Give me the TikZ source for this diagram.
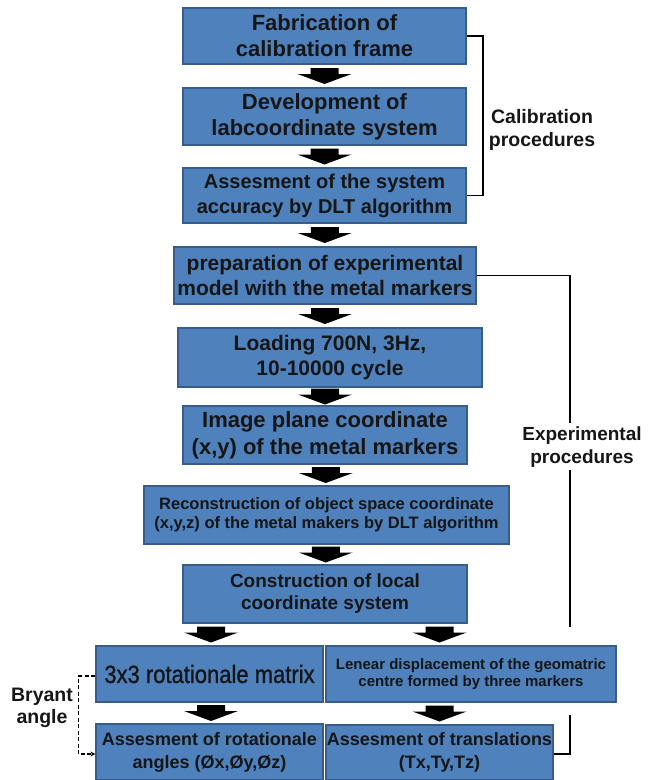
\documentclass[tikz,border=0pt]{standalone}
\usepackage{fontspec}
\setmainfont{Liberation Sans}
\newfontfamily\narrowfont[FakeStretch=0.88,FakeBold=1.0]{Liberation Sans}
\usetikzlibrary{calc,arrows.meta}
\definecolor{boxfill}{RGB}{79,129,189}
\definecolor{boxline}{RGB}{56,93,138}
\definecolor{txt}{RGB}{22,22,22}
\begin{document}
\begin{tikzpicture}[x=1pt,y=-1pt,
  box/.style={draw=boxline, line width=1.2pt, fill=boxfill, inner sep=0pt, align=center, text=txt},
  fs/.style 2 args={font=\bfseries\fontsize{#1}{#2}\selectfont},
  fn/.style 2 args={font=\narrowfont\fontsize{#1}{#2}\selectfont},
  lbl/.style={align=center, text=txt, inner sep=0pt},
  bracket/.style={line width=1.5pt, black},
  barrow/.pic={\fill[black] (-14,-8) -- (14,-8) -- (14,-2) -- (27,-2) -- (0,8) -- (-27,-2) -- (-14,-2) -- cycle;}
]
\useasboundingbox (0,0) rectangle (652,780);

% free ends of the bracket connectors
\coordinate (calx) at (483,0);
\coordinate (e1) at (570,275.5);
\coordinate (e2) at (570,423);
\coordinate (e3) at (570,470);
\coordinate (e4) at (570,627);
\coordinate (e5) at (570,715);

% boxes
\node[box, minimum width=283pt, minimum height=56pt, fs={22}{26}] (b1) at (324.5,36) {Fabrication of\\calibration frame};
\node[box, minimum width=283pt, minimum height=57pt, fs={22}{26}] (b2) at (324.5,116.5) {Development of\\labcoordinate system};
\node[box, minimum width=283pt, minimum height=55pt, fs={20}{25}] (b3) at (324.5,195.5) {Assesment of the system\\accuracy by DLT algorithm};
\node[box, minimum width=302pt, minimum height=57pt, fs={21}{25}] (b4) at (325,275.5) {preparation of experimental\\model with the metal markers};
\node[box, minimum width=304pt, minimum height=59pt, fs={21}{25}] (b5) at (330,357.5) {Loading 700N, 3Hz,\\10-10000 cycle};
\node[box, minimum width=284pt, minimum height=58pt, fs={22}{27}] (b6) at (325,435) {Image plane coordinate\\(x,y) of the metal markers};
\node[box, minimum width=365pt, minimum height=58pt, fs={16.5}{19}] (b7) at (326.5,515) {Reconstruction of object space coordinate\\(x,y,z) of the metal makers by DLT algorithm};
\node[box, minimum width=284pt, minimum height=58pt, fs={19}{22}] (b8) at (325,594) {Construction of local\\coordinate system};

% experimental bracket lines
\draw[bracket] (b4.east) -- (e1) -- (e2);
\draw[bracket] (e3) -- (e4);
\draw[bracket] (e5) |- (553,754);

\node[box, minimum width=227pt, minimum height=56pt, fn={25}{28}] (b9) at (209.5,674) {3x3 rotationale matrix};
\node[box, minimum width=290pt, minimum height=56pt, fs={15}{17}] (b10) at (471,674) {Lenear displacement of the geomatric\\centre formed by three markers};
\node[box, minimum width=227pt, minimum height=56pt, fs={18}{23}] (b11) at (209.5,752) {Assesment of rotationale\\angles (Øx,Øy,Øz)};
\node[box, minimum width=227pt, minimum height=55pt, fs={18}{23}] (b12) at (439.5,752.5) {Assesment of translations\\(Tx,Ty,Tz)};

% calibration bracket
\draw[bracket] (b1.east) -- (b1.east -| calx) -- (b3.east -| calx) -- (b3.east);

% labels
\node[lbl, fs={19.5}{23}] (cal) at (542,130) {Calibration\\procedures};
\node[lbl, fs={19}{23}] (exp) at (582,447) {Experimental\\procedures};
\node[lbl, fs={19.5}{22}] (bry) at (42,708) {Bryant\\angle};

% Bryant dashed connector
\draw[line width=1.4pt, dash pattern=on 4pt off 2.5pt, -{Stealth[length=5pt,width=5pt]}] ([yshift=-2pt]b9.west) -- ++(-17,0) |- ([yshift=-2pt]b11.west);

% block arrows
\pic at ($(b1.south)!0.5!(b2.north)$) {barrow};
\pic at ($(b2.south)!0.5!(b3.north)$) {barrow};
\pic at ($(b3.south)!0.5!(b4.north)$) {barrow};
\pic at ($(b4.south)!0.5!(b5.north)+(-2.5,0)$) {barrow};
\pic at ($(b5.south)!0.5!(b6.north)+(-2.5,0)$) {barrow};
\pic at ($(b6.south)!0.5!(b7.north)$) {barrow};
\pic at ($(b7.south)!0.5!(b8.north)$) {barrow};
\pic at ($(b8.south -| b9.north)!0.5!(b9.north)+(1.5,0)$) {barrow};
\pic at ($(b8.south -| b12.north)!0.5!(b10.north -| b12.north)$) {barrow};
\pic at ($(b9.south)!0.5!(b11.north)+(1.5,0)$) {barrow};
\pic at ($(b10.south -| b12.north)!0.5!(b12.north)$) {barrow};
\end{tikzpicture}
\end{document}
